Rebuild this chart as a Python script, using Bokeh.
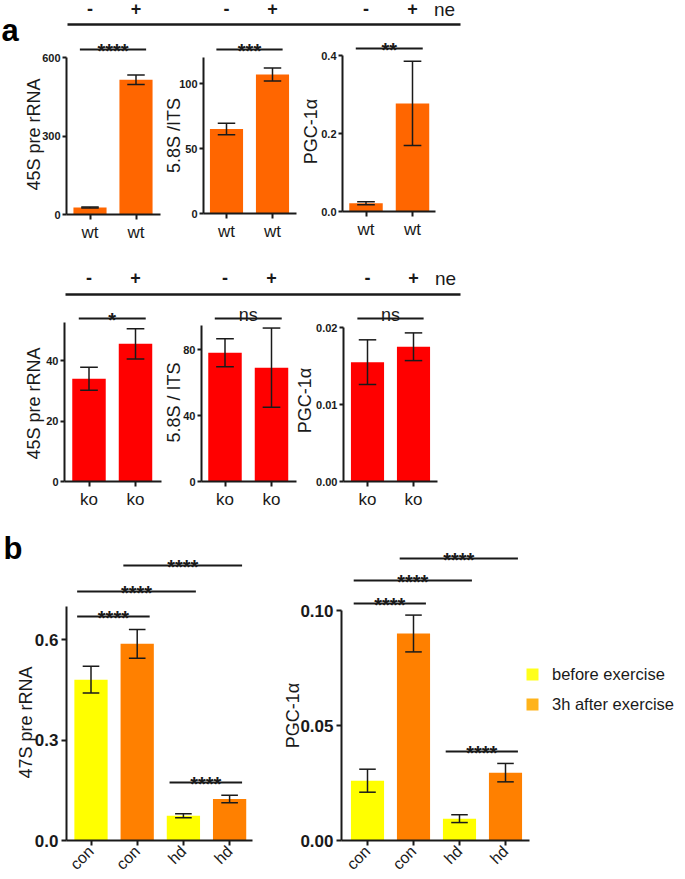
import math
from bokeh.plotting import figure
from bokeh.models import Range1d, LinearAxis, FixedTicker, ColumnDataSource, Legend, LegendItem
from bokeh.core.properties import value
from bokeh.embed import file_html
from bokeh.resources import INLINE

FONT = "Liberation Sans"
INK = "#1a1a1a"

# ---------------------------------------------------------------- data
ne_signs = ["-", "+"]
ne_label = "ne"

wt_cats = ["wt", "wt"]
ko_cats = ["ko", "ko"]

wt_45s_mean = [27, 515]
wt_45s_err = [2, 18]
wt_58s_mean = [65, 107]
wt_58s_err = [4.5, 5]
wt_pgc_mean = [0.021, 0.277]
wt_pgc_err = [0.004, 0.108]

ko_45s_mean = [34, 45.5]
ko_45s_err = [3.8, 5]
ko_58s_mean = [78, 69]
ko_58s_err = [8.5, 24]
ko_pgc_mean = [0.0155, 0.0175]
ko_pgc_err = [0.0029, 0.0018]

ex_cats = ["con", "con", "hd", "hd"]
ex_group_names = ["before exercise", "3h after exercise"]
ex_group_of_bar = [0, 1, 0, 1]
ex_47s_mean = [0.48, 0.587, 0.074, 0.124]
ex_47s_err = [0.04, 0.043, 0.006, 0.011]
ex_pgc_mean = [0.026, 0.090, 0.0095, 0.0295]
ex_pgc_err = [0.005, 0.008, 0.0017, 0.004]

# y tick values / labels
ticks_wt_45s, labels_wt_45s = [0, 300, 600], ["0", "300", "600"]
ticks_wt_58s, labels_wt_58s = [0, 50, 100], ["0", "50", "100"]
ticks_wt_pgc, labels_wt_pgc = [0, 0.2, 0.4], ["0.0", "0.2", "0.4"]
ticks_ko_45s, labels_ko_45s = [0, 20, 40], ["0", "20", "40"]
ticks_ko_58s, labels_ko_58s = [0, 40, 80], ["0", "40", "80"]
ticks_ko_pgc, labels_ko_pgc = [0, 0.01, 0.02], ["0.00", "0.01", "0.02"]
ticks_ex_47s, labels_ex_47s = [0, 0.3, 0.6], ["0.0", "0.3", "0.6"]
ticks_ex_pgc, labels_ex_pgc = [0, 0.05, 0.10], ["0.00", "0.05", "0.10"]

# axis titles
title_wt = ["45S pre rRNA", "5.8S /ITS", "PGC-1α"]
title_ko = ["45S pre rRNA", "5.8S / ITS", "PGC-1α"]
title_ex = ["47S pre rRNA", "PGC-1α"]

# significance brackets: (bar i, bar j, label)
sig_wt_45s = [(1, 2, "****")]
sig_wt_58s = [(1, 2, "***")]
sig_wt_pgc = [(1, 2, "**")]
sig_ko_45s = [(1, 2, "*")]
sig_ko_58s = [(1, 2, "ns")]
sig_ko_pgc = [(1, 2, "ns")]
sig_ex_47s = [(1, 2, "****"), (1, 3, "****"), (2, 4, "****"), (3, 4, "****")]
sig_ex_pgc = [(1, 2, "****"), (1, 3, "****"), (2, 4, "****"), (3, 4, "****")]

# ---------------------------------------------------------------- styles
C_WT = "#FF6600"
C_KO = "#FF0000"
C_EX = ["#FFFF00", "#FF8000"]
C_LEG = ["#FFFF1A", "#FFB31A"]

W, H = 685, 879
PX0, PX1 = 0, W
PY0, PY1 = 0, H

# panel placement, in page pixels
LAY = {
    "wt_45s": dict(axis_x=66, end_x=160, c1=89.5, d=46, y0=214, ytop=57, top_val=600, axis_top=600,
                   title_xy=(33, 134), sig_y=[49]),
    "wt_58s": dict(axis_x=203, end_x=296, c1=226, d=46, y0=213, ytop=83, top_val=100, axis_top=120,
                   title_xy=(173, 135), sig_y=[49]),
    "wt_pgc": dict(axis_x=342, end_x=435, c1=365.5, d=46.5, y0=211, ytop=55, top_val=0.4, axis_top=0.4,
                   title_xy=(310, 131), sig_y=[48]),
    "ko_45s": dict(axis_x=64, end_x=161, c1=88.5, d=46.5, y0=481, ytop=360, top_val=40, axis_top=52.5,
                   title_xy=(33, 403), sig_y=[318]),
    "ko_58s": dict(axis_x=201, end_x=296, c1=224.5, d=46.5, y0=481, ytop=349, top_val=80, axis_top=94.5,
                   title_xy=(173, 402), sig_y=[318]),
    "ko_pgc": dict(axis_x=343, end_x=437, c1=367, d=46, y0=481, ytop=327, top_val=0.02, axis_top=0.02,
                   title_xy=(304, 400), sig_y=[318]),
    "ex_47s": dict(axis_x=66, end_x=252, c1=90.5, d=46.2, y0=840, ytop=639, top_val=0.6, axis_top=0.7,
                   title_xy=(25, 722), sig_y=[616, 591, 565, 782]),
    "ex_pgc": dict(axis_x=341, end_x=529, c1=367, d=46, y0=840, ytop=610, top_val=0.1, axis_top=0.1,
                   title_xy=(292, 715), sig_y=[603, 580, 558, 751]),
}

STY_A = dict(bar_w=0.72, cap=0.19, ytick_size="11px", ytick_out=4, ytick_standoff=2,
             xlab_size="17px", xlab_orient="horizontal", xlab_standoff=3, ext_l=0.22, ext_r=0.22,
             title_size="18px")
STY_B = dict(bar_w=0.72, cap=0.18, ytick_size="17px", ytick_out=5, ytick_standoff=3,
             xlab_size="16px", xlab_orient=math.pi / 4, xlab_standoff=3, ext_l=0.3, ext_r=0.27,
             title_size="18px")

p = figure(width=W, height=H, x_range=Range1d(PX0, PX1), y_range=Range1d(PY1, PY0),
           x_axis_type=None, y_axis_type=None, toolbar_location=None,
           output_backend="svg", min_border=0, outline_line_color=None)
p.title.visible = False
p.background_fill_color = "white"
p.border_fill_color = "white"

x_ranges, y_ranges = {}, {}


def style_axis(ax, size, bold, tick_out, standoff):
    ax.axis_line_color = INK
    ax.axis_line_width = 2
    ax.major_tick_line_color = INK
    ax.major_tick_line_width = 2
    ax.major_tick_in = 0
    ax.major_tick_out = tick_out
    ax.minor_tick_line_color = None
    ax.major_label_text_font = FONT
    ax.major_label_text_font_size = size
    ax.major_label_text_font_style = "bold" if bold else "normal"
    ax.major_label_text_color = INK
    ax.major_label_standoff = standoff


def add_panel(key, cats, means, errs, colors, ticks, ticklabels, title, sigs, S):
    L = LAY[key]
    xn, yn = key + "_x", key + "_y"
    c1, d = L["c1"], L["d"]
    k = (L["y0"] - L["ytop"]) / L["top_val"]
    x_ranges[xn] = Range1d(1 + (PX0 - c1) / d, 1 + (PX1 - c1) / d)
    y_ranges[yn] = Range1d((L["y0"] - PY1) / k, (L["y0"] - PY0) / k)
    xs = list(range(1, len(means) + 1))
    cw = S["cap"]
    src = ColumnDataSource(dict(
        x=xs, top=means,
        lo=[m - e for m, e in zip(means, errs)],
        hi=[m + e for m, e in zip(means, errs)],
        xl=[x - cw for x in xs], xr=[x + cw for x in xs],
        color=colors))
    p.vbar(x="x", top="top", bottom=0, width=S["bar_w"], fill_color="color", line_color=None,
           source=src, x_range_name=xn, y_range_name=yn)
    for a0, a1, b0, b1 in (("x", "x", "lo", "hi"), ("xl", "xr", "lo", "lo"), ("xl", "xr", "hi", "hi")):
        p.segment(x0=a0, x1=a1, y0=b0, y1=b1, source=src, line_color=INK, line_width=1.5,
                  x_range_name=xn, y_range_name=yn)

    ya = LinearAxis(x_range_name=xn, y_range_name=yn,
                    fixed_location=1 + (L["axis_x"] - c1) / d,
                    bounds=(0, L["axis_top"]),
                    ticker=FixedTicker(ticks=ticks, minor_ticks=[]),
                    major_label_overrides=dict(zip(ticks, ticklabels)))
    style_axis(ya, S["ytick_size"], True, S["ytick_out"], S["ytick_standoff"])
    p.add_layout(ya, "left")

    xa = LinearAxis(x_range_name=xn, y_range_name=yn, fixed_location=0,
                    bounds=(1 + (L["axis_x"] - c1) / d, 1 + (L["end_x"] - c1) / d),
                    ticker=FixedTicker(ticks=xs, minor_ticks=[]),
                    major_label_overrides=dict(zip(xs, cats)))
    style_axis(xa, S["xlab_size"], False, 5, S["xlab_standoff"])
    xa.major_label_orientation = S["xlab_orient"]
    p.add_layout(xa, "below")

    tx, ty = L["title_xy"]
    p.text(x=[tx], y=[ty], text=[title], angle=math.pi / 2, text_align="center",
           text_baseline="middle", text_font=value(FONT), text_font_size=S["title_size"],
           text_color=INK)

    for (i, j, lab), sy in zip(sigs, L["sig_y"]):
        xl, xr = i - S["ext_l"], j + S["ext_r"]
        p.segment(x0=[xl], x1=[xr], y0=[sy], y1=[sy], x_range_name=xn, line_color=INK, line_width=2)
        is_ns = lab == "ns"
        p.text(x=[(xl + xr) / 2], y=[sy - 4 if is_ns else sy + 1], text=[lab], x_range_name=xn,
               text_align="center", text_baseline="alphabetic", text_font=value(FONT),
               text_font_size="18px" if is_ns else "20px",
               text_font_style="normal" if is_ns else "bold", text_color=INK)
    return xn


def header(xnames, y_sign, y_line, x0, x1, ne_xy):
    for xn in xnames:
        p.text(x=[1, 2], y=[y_sign, y_sign], text=ne_signs, x_range_name=xn, text_align="center",
               text_baseline="middle", text_font=value(FONT), text_font_size="18px",
               text_font_style="bold", text_color=INK)
    p.segment(x0=[x0], x1=[x1], y0=[y_line], y1=[y_line], line_color=INK, line_width=2.5)
    p.text(x=[ne_xy[0]], y=[ne_xy[1]], text=[ne_label], text_align="center", text_baseline="middle",
           text_font=value(FONT), text_font_size="19px", text_color=INK)


# ---------------------------------------------------------------- panel a, wild type
xa1 = add_panel("wt_45s", wt_cats, wt_45s_mean, wt_45s_err, [C_WT] * 2, ticks_wt_45s, labels_wt_45s,
                title_wt[0], sig_wt_45s, STY_A)
xa2 = add_panel("wt_58s", wt_cats, wt_58s_mean, wt_58s_err, [C_WT] * 2, ticks_wt_58s, labels_wt_58s,
                title_wt[1], sig_wt_58s, STY_A)
xa3 = add_panel("wt_pgc", wt_cats, wt_pgc_mean, wt_pgc_err, [C_WT] * 2, ticks_wt_pgc, labels_wt_pgc,
                title_wt[2], sig_wt_pgc, STY_A)
header([xa1, xa2, xa3], 8, 24, 67, 460, (444, 9))

# ---------------------------------------------------------------- panel a, knockout
xk1 = add_panel("ko_45s", ko_cats, ko_45s_mean, ko_45s_err, [C_KO] * 2, ticks_ko_45s, labels_ko_45s,
                title_ko[0], sig_ko_45s, STY_A)
xk2 = add_panel("ko_58s", ko_cats, ko_58s_mean, ko_58s_err, [C_KO] * 2, ticks_ko_58s, labels_ko_58s,
                title_ko[1], sig_ko_58s, STY_A)
xk3 = add_panel("ko_pgc", ko_cats, ko_pgc_mean, ko_pgc_err, [C_KO] * 2, ticks_ko_pgc, labels_ko_pgc,
                title_ko[2], sig_ko_pgc, STY_A)
header([xk1, xk2, xk3], 277, 294, 65, 460, (445, 278))

# ---------------------------------------------------------------- panel b, exercise
ex_colors = [C_EX[g] for g in ex_group_of_bar]
add_panel("ex_47s", ex_cats, ex_47s_mean, ex_47s_err, ex_colors, ticks_ex_47s, labels_ex_47s,
          title_ex[0], sig_ex_47s, STY_B)
add_panel("ex_pgc", ex_cats, ex_pgc_mean, ex_pgc_err, ex_colors, ticks_ex_pgc, labels_ex_pgc,
          title_ex[1], sig_ex_pgc, STY_B)

# panel letters
p.text(x=[1, 3], y=[30, 548], text=["a", "b"], text_align="left", text_baseline="middle",
       text_font=value(FONT), text_font_size="31px", text_font_style="bold", text_color="black")

# legend (swatch-only proxy renderers, nothing drawn on the plot)
leg_items = []
for name, col in zip(ex_group_names, C_LEG):
    r = p.scatter(x=[float("nan")], y=[float("nan")], marker="square", size=12,
                  fill_color=col, line_color=None)
    leg_items.append(LegendItem(label=name, renderers=[r]))
legend = Legend(items=leg_items, location=(517, 160), orientation="vertical",
                glyph_width=30, glyph_height=30, label_height=30, label_standoff=5, spacing=-5,
                padding=0, margin=0, border_line_color=None, background_fill_alpha=0,
                label_text_font=FONT, label_text_font_size="16.5px", label_text_color=INK)
p.add_layout(legend)

p.extra_x_ranges = x_ranges
p.extra_y_ranges = y_ranges

open("out.html", "w").write(file_html(p, INLINE))
